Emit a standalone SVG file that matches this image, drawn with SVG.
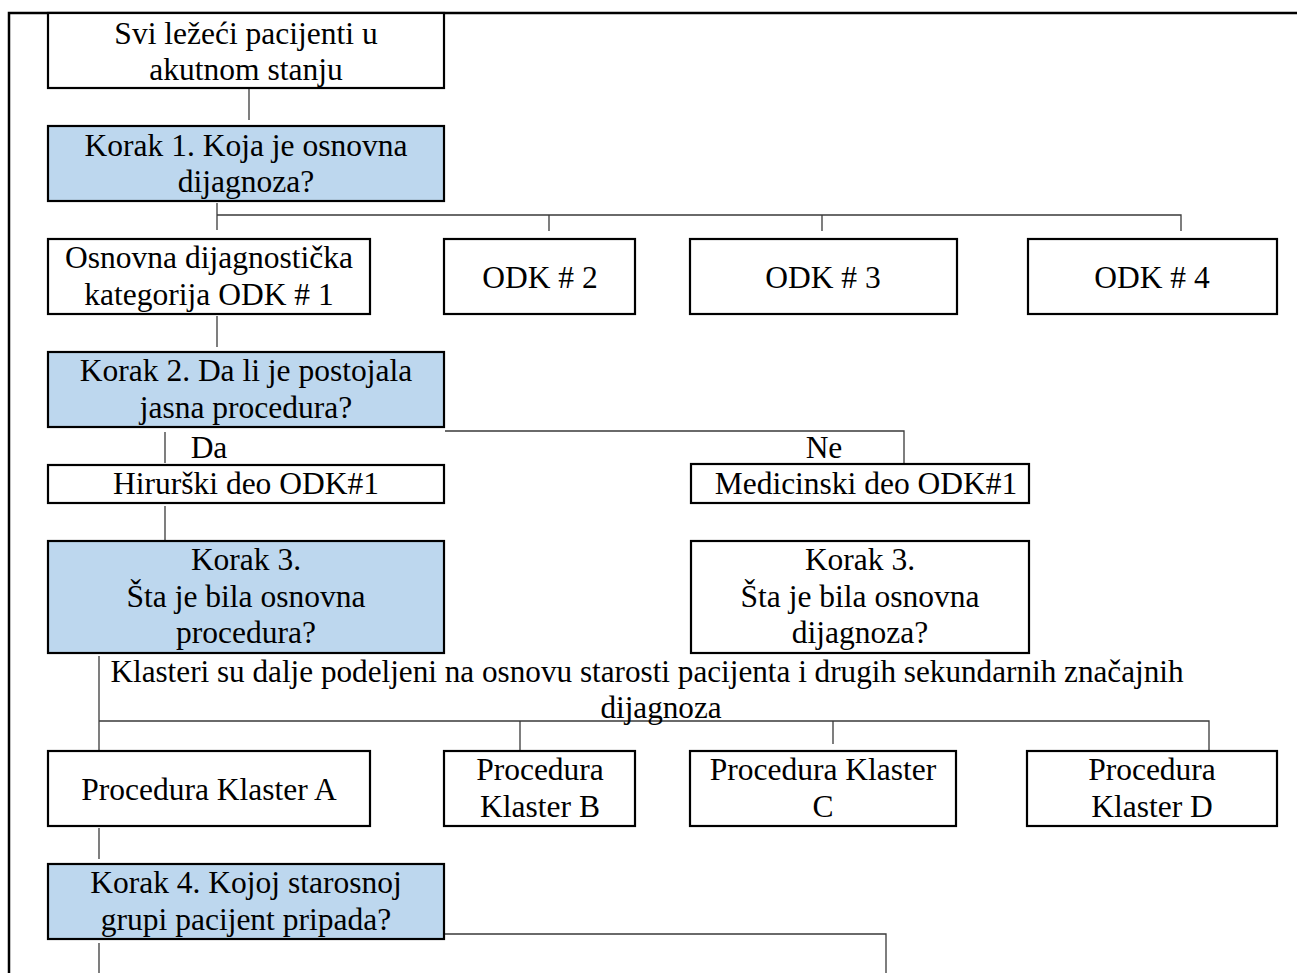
<svg xmlns="http://www.w3.org/2000/svg" width="1297" height="973" viewBox="0 0 1297 973">
<style>
.box{stroke:#000;stroke-width:2.2;fill:#fff}
.blue{fill:#BDD7EE}
.t{font-family:"Liberation Serif","Times New Roman",serif;font-size:31.5px;fill:#000;text-anchor:middle}
.small{font-size:31.2px}
.c{stroke:#3a3a3a;stroke-width:1.3;fill:none}
.frame{stroke:#000;stroke-width:2.5;fill:none}
</style>
<rect width="1297" height="973" fill="#fff"/>
<g id="frame">
<path class="frame" d="M9,973 V13 H1297"/>
</g>
<g id="connectors">
<path class="c" d="M249,88 V120"/>
<path class="c" d="M217,203 V230"/>
<path class="c" d="M217,215 H1181 V231"/>
<path class="c" d="M549,215 V231"/>
<path class="c" d="M822,215 V231"/>
<path class="c" d="M217,316 V347"/>
<path class="c" d="M165,432 V463"/>
<path class="c" d="M445,431 H904 V463"/>
<path class="c" d="M165,506 V544"/>
<path class="c" d="M99,656 V751"/>
<path class="c" d="M99,721 H1209 V750"/>
<path class="c" d="M520,721 V750"/>
<path class="c" d="M833,721 V744"/>
<path class="c" d="M99,828 V859"/>
<path class="c" d="M445,934 H886 V973"/>
<path class="c" d="M99,943 V973"/>
</g>
<g id="n1"><rect class="box" x="48" y="13" width="396" height="75"/>
<text class="t" x="246" y="44">Svi ležeći pacijenti u</text><text class="t" x="246" y="80">akutnom stanju</text></g>
<g id="korak1"><rect class="box blue" x="48" y="126" width="396" height="75"/>
<text class="t" x="246" y="156">Korak 1. Koja je osnovna</text><text class="t" x="246" y="192">dijagnoza?</text></g>
<g id="odk1"><rect class="box" x="48" y="239" width="322" height="75"/>
<text class="t" x="209" y="268">Osnovna dijagnostička</text><text class="t" x="209" y="305">kategorija ODK # 1</text></g>
<g id="odk2"><rect class="box" x="444" y="239" width="191" height="75"/>
<text class="t" x="540" y="288">ODK # 2</text></g>
<g id="odk3"><rect class="box" x="690" y="239" width="267" height="75"/>
<text class="t" x="823" y="288">ODK # 3</text></g>
<g id="odk4"><rect class="box" x="1028" y="239" width="249" height="75"/>
<text class="t" x="1152" y="288">ODK # 4</text></g>
<g id="korak2"><rect class="box blue" x="48" y="352" width="396" height="75"/>
<text class="t" x="246" y="381">Korak 2. Da li je postojala</text><text class="t" x="246" y="418">jasna procedura?</text></g>
<g id="lbl-da"><text class="t" x="209" y="458">Da</text></g>
<g id="lbl-ne"><text class="t" x="824" y="458">Ne</text></g>
<g id="hirurski"><rect class="box" x="48" y="465" width="396" height="38"/>
<text class="t" x="246" y="494">Hirurški deo ODK#1</text></g>
<g id="medicinski"><rect class="box" x="691" y="464" width="338" height="39"/>
<text class="t" x="866" y="494">Medicinski deo ODK#1</text></g>
<g id="korak3a"><rect class="box blue" x="48" y="541" width="396" height="112"/>
<text class="t" x="246" y="570">Korak 3.</text><text class="t" x="246" y="607">Šta je bila osnovna</text><text class="t" x="246" y="643">procedura?</text></g>
<g id="korak3b"><rect class="box" x="691" y="541" width="338" height="112"/>
<text class="t" x="860" y="570">Korak 3.</text><text class="t" x="860" y="607">Šta je bila osnovna</text><text class="t" x="860" y="643">dijagnoza?</text></g>
<g id="note"><text class="t small" x="647" y="682">Klasteri su dalje podeljeni na osnovu starosti pacijenta i drugih sekundarnih značajnih</text>
<text class="t small" x="661" y="718">dijagnoza</text></g>
<g id="klA"><rect class="box" x="48" y="751" width="322" height="75"/>
<text class="t" x="209" y="800">Procedura Klaster A</text></g>
<g id="klB"><rect class="box" x="444" y="751" width="191" height="75"/>
<text class="t" x="540" y="780">Procedura</text><text class="t" x="540" y="817">Klaster B</text></g>
<g id="klC"><rect class="box" x="690" y="751" width="266" height="75"/>
<text class="t" x="823" y="780">Procedura Klaster</text><text class="t" x="823" y="817">C</text></g>
<g id="klD"><rect class="box" x="1027" y="751" width="250" height="75"/>
<text class="t" x="1152" y="780">Procedura</text><text class="t" x="1152" y="817">Klaster D</text></g>
<g id="korak4"><rect class="box blue" x="48" y="864" width="396" height="75"/>
<text class="t" x="246" y="893">Korak 4. Kojoj starosnoj</text><text class="t" x="246" y="930">grupi pacijent pripada?</text></g>
</svg>
